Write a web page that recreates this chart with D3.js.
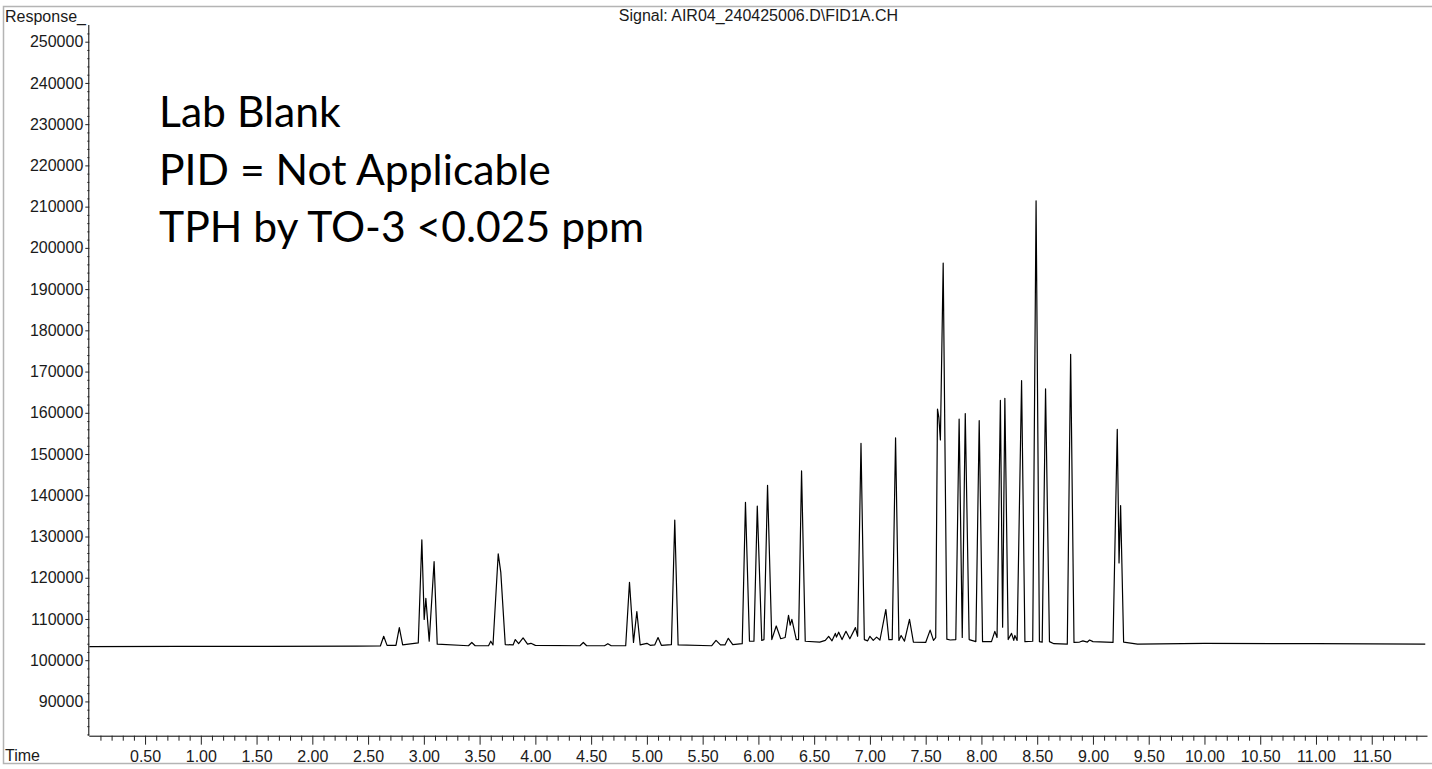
<!DOCTYPE html>
<html>
<head>
<meta charset="utf-8">
<script src="https://cdn.jsdelivr.net/npm/d3@7"></script>
<style>
  html, body { margin: 0; padding: 0; background: #fff; }
  svg { display: block; }
  text { font-family: "Liberation Sans", Arial, Helvetica, sans-serif; fill: #1a1a1a; }
  .note { font-family: Lato, "Open Sans", sans-serif; fill: #000; }
</style>
</head>
<body>
<div id="plot"></div>
<script>
// chromatogram trace (time in min, response)
const retentionTimes = [
  0.00, 0.80, 1.60, 2.40, 2.61, 2.64, 2.67, 2.75, 2.78, 2.81,
  2.95, 2.982, 3.003, 3.018, 3.048, 3.092, 3.12, 3.40, 3.43, 3.46,
  3.58, 3.60, 3.62, 3.667, 3.69, 3.73, 3.80, 3.82, 3.85, 3.89,
  3.93, 3.96, 4.00, 4.40, 4.43, 4.46, 4.62, 4.65, 4.68, 4.81,
  4.844, 4.88, 4.91, 4.94, 5.00, 5.03, 5.07, 5.10, 5.13, 5.22,
  5.25, 5.28, 5.58, 5.62, 5.66, 5.70, 5.73, 5.77, 5.855, 5.884,
  5.92, 5.96, 5.99, 6.03, 6.05, 6.082, 6.12, 6.16, 6.20, 6.24,
  6.27, 6.285, 6.30, 6.34, 6.36, 6.387, 6.42, 6.55, 6.60, 6.63,
  6.66, 6.69, 6.70, 6.72, 6.75, 6.785, 6.82, 6.87, 6.89, 6.92,
  6.95, 6.98, 7.00, 7.03, 7.06, 7.09, 7.143, 7.17, 7.20, 7.23,
  7.26, 7.28, 7.31, 7.355, 7.39, 7.50, 7.54, 7.57, 7.59, 7.606,
  7.618, 7.632, 7.657, 7.69, 7.72, 7.77, 7.80, 7.828, 7.855, 7.89,
  7.95, 7.98, 8.01, 8.09, 8.12, 8.14, 8.17, 8.19, 8.21, 8.24,
  8.27, 8.29, 8.30, 8.32, 8.36, 8.39, 8.46, 8.49, 8.52, 8.545,
  8.575, 8.61, 8.65, 8.77, 8.80, 8.83, 8.88, 8.91, 8.95, 8.97,
  9.00, 9.18, 9.218, 9.234, 9.248, 9.275, 9.40, 10.00, 11.00, 11.98
];
const responses = [
  103300, 103350, 103350, 103400, 103450, 105800, 103600, 103600, 107900, 103700,
  104200, 129200, 109900, 115000, 104600, 123900, 103900, 103500, 104300, 103500,
  103500, 104600, 103700, 125800, 121300, 103800, 103700, 105000, 104000, 105400,
  103900, 104100, 103600, 103500, 104300, 103500, 103500, 104000, 103500, 103500,
  118900, 104300, 111800, 103700, 104100, 103600, 103700, 105500, 103600, 103800,
  134000, 103700, 103500, 104800, 103700, 103700, 105300, 103800, 104000, 138300,
  104600, 104600, 137400, 104800, 105000, 142400, 105000, 108300, 105200, 105500,
  110900, 108500, 109900, 105000, 105000, 145900, 104600, 104400, 104800, 105800,
  104700, 106500, 105600, 106800, 105000, 107000, 105200, 107900, 105800, 152600,
  105000, 104700, 105800, 104800, 105600, 104900, 112300, 105000, 105000, 153900,
  104800, 106000, 104600, 109900, 104400, 104300, 107300, 104800, 105500, 160900,
  158900, 153400, 196300, 105100, 104900, 105000, 158500, 105500, 159800, 105000,
  104500, 158100, 104500, 104500, 107000, 105500, 163000, 108000, 163500, 105000,
  106500, 104800, 106000, 104800, 167800, 104500, 104600, 211400, 104500, 104400,
  165800, 104500, 104000, 103900, 174200, 104300, 104400, 104700, 104400, 104900,
  104500, 104300, 156000, 123600, 137500, 104400, 103900, 104100, 104000, 103900
];

const yTickValues = [90000, 100000, 110000, 120000, 130000, 140000, 150000, 160000,
  170000, 180000, 190000, 200000, 210000, 220000, 230000, 240000, 250000];
const xTickLabels = ["0.50", "1.00", "1.50", "2.00", "2.50", "3.00", "3.50", "4.00",
  "4.50", "5.00", "5.50", "6.00", "6.50", "7.00", "7.50", "8.00", "8.50", "9.00",
  "9.50", "10.00", "10.50", "11.00", "11.50"];
const noteLines = ["Lab Blank", "PID = Not Applicable", "TPH by TO-3 <0.025 ppm"];
const signalTitle = "Signal: AIR04_240425006.D\\FID1A.CH";

const W = 1432, H = 769;
const plotLeft = 89.3, plotRight = 1427.5, plotTop = 25, plotBottom = 735.7;

const svg = d3.select("#plot").append("svg")
  .attr("width", W)
  .attr("height", H);

// outer frame
svg.append("rect")
  .attr("x", 3.5).attr("y", 6.5)
  .attr("width", W + 10).attr("height", 757)
  .attr("fill", "none")
  .attr("stroke", "#b4b4b4")
  .attr("stroke-width", 1.5);

const x = d3.scaleLinear().domain([0, 12]).range([plotLeft, plotRight]);
const y = d3.scaleLinear().domain([81690, 254050]).range([plotBottom, plotTop]);

// x axis: minor ticks every 0.1, labelled every 0.5
const minorX = d3.range(1, 120).map(i => i / 10).filter(v => Math.round(v * 10) % 5 !== 0);
const majorX = xTickLabels.map(Number);

const xMinor = svg.append("g")
  .attr("transform", "translate(0," + plotBottom + ")")
  .call(d3.axisBottom(x).tickValues(minorX).tickSize(5).tickFormat(""));
xMinor.select(".domain").attr("stroke", "#000").attr("d", "M" + plotLeft + ",0.5H" + plotRight);

const xMajor = svg.append("g")
  .attr("transform", "translate(0," + plotBottom + ")")
  .call(d3.axisBottom(x).tickValues(majorX).tickSize(9).tickPadding(6)
    .tickFormat((d, i) => xTickLabels[i]));
xMajor.select(".domain").remove();
xMajor.selectAll("text").attr("font-size", 16).attr("fill", "#1a1a1a")
  .attr("font-family", "'Liberation Sans', Arial, sans-serif");

// y axis: minor ticks every 2000
const minorY = d3.range(41, 127).map(i => i * 2000).filter(v => v % 10000 !== 0);
const yMinor = svg.append("g")
  .attr("transform", "translate(" + plotLeft + ",0)")
  .call(d3.axisLeft(y).tickValues(minorY).tickSize(2).tickFormat(""));
yMinor.select(".domain").attr("d", "M-0.5," + plotTop + "V" + plotBottom);

const yMajor = svg.append("g")
  .attr("transform", "translate(" + plotLeft + ",0)")
  .call(d3.axisLeft(y).tickValues(yTickValues).tickSize(4).tickPadding(2).tickFormat(d3.format("d")));
yMajor.select(".domain").remove();
yMajor.selectAll("text").attr("font-size", 16).attr("fill", "#1a1a1a")
  .attr("font-family", "'Liberation Sans', Arial, sans-serif");

svg.selectAll(".tick line").attr("stroke", "#222");

// trace
const trace = retentionTimes.map((t, i) => [t, responses[i]]);
const line = d3.line().x(d => x(d[0])).y(d => y(d[1]));
svg.append("path")
  .datum(trace)
  .attr("d", line)
  .attr("fill", "none")
  .attr("stroke", "#000")
  .attr("stroke-width", 1.2)
  .attr("stroke-linejoin", "round");

// labels
svg.append("text").attr("x", 5).attr("y", 22).attr("font-size", 16).text("Response_");
svg.append("text").attr("x", 5).attr("y", 761).attr("font-size", 16).text("Time");
svg.append("text")
  .attr("x", (plotLeft + plotRight) / 2).attr("y", 21)
  .attr("text-anchor", "middle")
  .attr("font-size", 16)
  .text(signalTitle);

// annotation block, sized so the middle line spans ~392px
const note = svg.append("g");
const noteText = note.selectAll("text")
  .data(noteLines)
  .enter().append("text")
  .attr("class", "note")
  .attr("x", 159)
  .attr("y", (d, i) => 127 + i * 57.5)
  .attr("font-size", 32)
  .text(d => d);
const wMid = noteText.nodes()[1].getComputedTextLength();
noteText.attr("font-size", 32 * 392 / wMid);
</script>
</body>
</html>
